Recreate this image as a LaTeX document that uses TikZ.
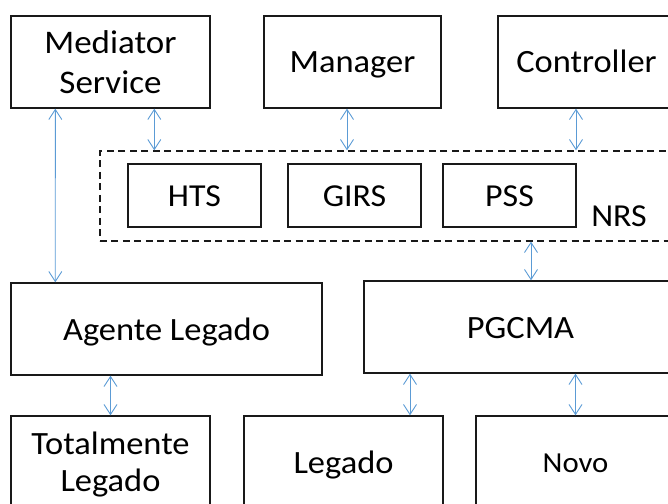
\documentclass[tikz,border=0pt]{standalone}
\usepackage{fontspec}
\setmainfont{Carlito}[FakeStretch=1.06]
\usetikzlibrary{arrows.meta}
\definecolor{linkblue}{RGB}{91,155,213}
\tikzset{
  box/.style={draw=black!90, line width=1.4bp, rectangle, inner sep=0pt, align=center,
    font=\fontsize{32.5bp}{40bp}\selectfont},
  oneline/.style={box, text height=22bp, text depth=0bp},
  twoline/.style={box, text depth=0bp},
  inner/.style={oneline, font=\fontsize{32bp}{38bp}\selectfont},
  group/.style={draw=black!90, line width=1.4bp, dash pattern=on 7bp off 4.5bp, rectangle, inner sep=0pt},
  link/.style={draw=linkblue, line width=0.9bp, {Straight Barb[length=10bp,width=13bp]}-{Straight Barb[length=10bp,width=13bp]}},
}
\begin{document}
\begin{tikzpicture}[x=1bp,y=-1bp]
\useasboundingbox (0,0) rectangle (668,504);
\clip (0,0) rectangle (668,504);
% top row
\node[twoline, minimum width=199bp, minimum height=92bp, font=\fontsize{33bp}{40.5bp}\selectfont] (med) at (110.5,62) {Mediator\\Service};
\node[oneline, minimum width=177bp, minimum height=92bp] (man) at (352.5,62) {Manager};
\node[oneline, minimum width=177bp, minimum height=92bp] (ctrl) at (586.5,62) {Controller};
% NRS group
\node[group, minimum width=600bp, minimum height=90bp] (nrs) at (400,196) {};
\node[inner, minimum width=133bp, minimum height=63bp] (hts) at (194.5,195.5) {HTS};
\node[inner, minimum width=133bp, minimum height=63bp] (girs) at (354.5,195.5) {GIRS};
\node[inner, minimum width=133bp, minimum height=63bp] (pss) at (509.5,195.5) {PSS};
\node[font=\fontsize{32bp}{38bp}\selectfont, inner sep=0pt, text height=18bp, text depth=0bp] (nrslabel) at (619,218) {NRS};
% middle row
\node[oneline, minimum width=311bp, minimum height=92bp] (agente) at (166.5,329) {Agente Legado};
\node[oneline, minimum width=313bp, minimum height=92bp] (pgcma) at (520.5,327) {PGCMA};
% bottom row
\node[twoline, minimum width=199bp, minimum height=92bp, font=\fontsize{32.5bp}{37bp}\selectfont] (tot) at (110.5,462) {Totalmente\\Legado};
\node[oneline, minimum width=199bp, minimum height=92bp] (leg) at (343.5,462) {Legado};
\node[oneline, minimum width=199bp, minimum height=92bp, font=\fontsize{29bp}{34bp}\selectfont, text height=20bp] (novo) at (575.5,462) {Novo};
% connectors
\draw[link] ([xshift=45bp]med.south west) -- ([xshift=45bp]agente.north west);
\draw[link] ([xshift=144bp]med.south west) coordinate (a1) -- (a1 |- nrs.north);
\draw[link] ([xshift=-5.5bp]man.south) coordinate (a2) -- (a2 |- nrs.north);
\draw[link] ([xshift=-10.5bp]ctrl.south) coordinate (a3) -- (a3 |- nrs.north);
\draw[link] ([xshift=10.5bp]pgcma.north) coordinate (a4) -- (a4 |- nrs.south);
\draw[link] (agente.south -| tot.north) -- (tot.north);
\draw[link] ([xshift=66.5bp]leg.north) coordinate (a5) -- (a5 |- pgcma.south);
\draw[link] (pgcma.south -| novo.north) -- (novo.north);
\end{tikzpicture}
\end{document}
